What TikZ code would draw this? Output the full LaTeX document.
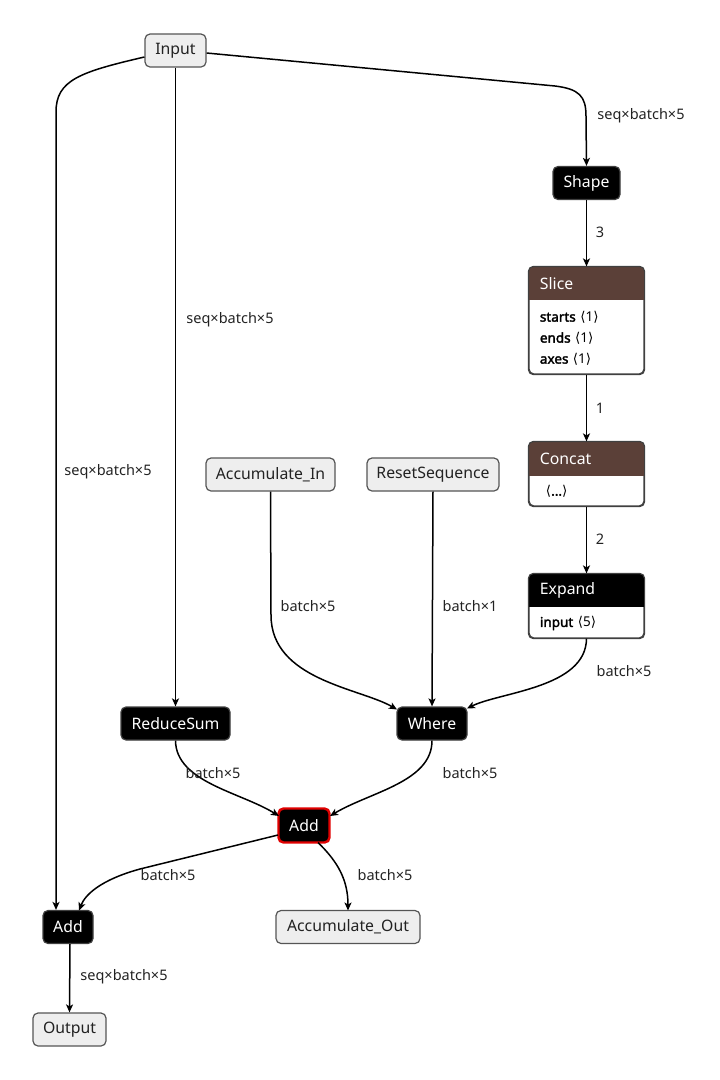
\documentclass[tikz,border=0pt]{standalone}
\usepackage{fontspec}
\setmainfont{Noto Sans}
\newfontfamily\djv{DejaVu Sans}
\newfontfamily\fbold[FakeBold=2.2]{Noto Sans}
\usetikzlibrary{arrows.meta}
\newcommand\lan{{\djv\char"27E8}}
\newcommand\ran{{\djv\char"27E9}}
\newcommand\kw[1]{{\fbold #1}}
\definecolor{hdr}{HTML}{5B4038}
\definecolor{gfill}{HTML}{EEEEEE}
\definecolor{gline}{HTML}{555555}
\definecolor{txt}{HTML}{222222}
\definecolor{redb}{HTML}{E00000}
\tikzset{
  base/.style={rounded corners=5pt, line width=1.2pt, inner sep=0pt, minimum height=33pt, font=\fontsize{15.8}{19}\selectfont},
  gnode/.style={base, draw=gline, fill=gfill, text=txt},
  bnode/.style={base, draw=black!75, fill=black, text=white},
  opbox/.style={rounded corners=5pt, line width=1.2pt, draw=black!75, fill=white, inner sep=0pt},
  arr/.style={line width=1.5pt, -{Stealth[length=8pt,width=7pt,inset=2pt]}},
  lbl/.style={font=\fontsize{14.5}{17}\selectfont, text=txt},
  hdrtxt/.style={font=\fontsize{15.8}{19}\selectfont, text=white, anchor=west},
  attr/.style={font=\fontsize{13.5}{16}\selectfont, text=black, anchor=west},
}
\begin{document}
\begin{tikzpicture}[x=1pt,y=-1pt]
\useasboundingbox (0,0) rectangle (720,1080);
% plain nodes
\node[gnode, minimum width=61pt] (in) at (175.5,50.5) {Input};
\node[bnode, minimum width=67pt] (shape) at (586.5,183) {Shape};
\node[gnode, minimum width=129pt] (accin) at (270.5,474.5) {Accumulate\_In};
\node[gnode, minimum width=132pt] (reset) at (433,474.5) {ResetSequence};
\node[bnode, minimum width=109pt] (rsum) at (175.5,723.5) {ReduceSum};
\node[bnode, minimum width=70pt] (where) at (432,723.5) {Where};
\node[bnode, minimum width=51pt, minimum height=34pt, draw=redb, line width=2.4pt] (add) at (304,825.5) {Add};
\node[bnode, minimum width=50pt] (add2) at (68,927) {Add};
\node[gnode, minimum width=144pt] (accout) at (348,927) {Accumulate\_Out};
\node[gnode, minimum width=73pt] (out) at (69.5,1029.5) {Output};
% Slice
\node[opbox, minimum width=115pt, minimum height=107pt] (slice) at (586.5,320.5) {};
\begin{scope}
\clip[rounded corners=5pt] (slice.south west) rectangle (slice.north east);
\fill[hdr] (slice.north west) rectangle ([yshift=-34pt]slice.north east);
\end{scope}
\draw[opbox, fill=none] (slice.south west) rectangle (slice.north east);
\node[hdrtxt] (slicet) at ([xshift=8pt,yshift=-17pt]slice.north west) {Slice};
\node[attr] (s1) at ([xshift=8pt,yshift=-51pt]slice.north west) {\kw{starts}\,\,\lan1\ran};
\node[attr] (s2) at ([xshift=8pt,yshift=-72pt]slice.north west) {\kw{ends}\,\,\lan1\ran};
\node[attr] (s3) at ([xshift=8pt,yshift=-93pt]slice.north west) {\kw{axes}\,\,\lan1\ran};
% Concat
\node[opbox, minimum width=115pt, minimum height=64pt] (concat) at (586.5,474) {};
\begin{scope}
\clip[rounded corners=5pt] (concat.south west) rectangle (concat.north east);
\fill[hdr] (concat.north west) rectangle ([yshift=-35pt]concat.north east);
\end{scope}
\draw[opbox, fill=none] (concat.south west) rectangle (concat.north east);
\node[hdrtxt] (concatt) at ([xshift=8pt,yshift=-17.5pt]concat.north west) {Concat};
\node[attr] (c1) at ([xshift=14pt,yshift=-50pt]concat.north west) {\kw{\lan...\ran}};
% Expand
\node[opbox, minimum width=115pt, minimum height=64pt] (expand) at (586.5,606) {};
\begin{scope}
\clip[rounded corners=5pt] (expand.south west) rectangle (expand.north east);
\fill[black] (expand.north west) rectangle ([yshift=-34pt]expand.north east);
\end{scope}
\draw[opbox, fill=none] (expand.south west) rectangle (expand.north east);
\node[hdrtxt] (expandt) at ([xshift=8pt,yshift=-17pt]expand.north west) {Expand};
\node[attr] (e1) at ([xshift=8pt,yshift=-50pt]expand.north west) {\kw{input}\,\,\lan5\ran};
% edges
\draw[arr] (in.west|-0,57) .. controls (80,72) and (56,80) .. (56,112) -- (add2.north-|56,0);
\node[lbl] at (108,472) {seq×batch×5};
\draw[arr] (in.south) -- (rsum.north);
\node[lbl] at (230,320) {seq×batch×5};
\draw[arr] (in.east|-0,53) -- (555,86) .. controls (579,89) and (586,96) .. (586,116) -- (shape.north);
\node[lbl] at (641,116) {seq×batch×5};
\draw[arr] (shape.south) -- (slice.north);
\node[lbl] at (600,232) {3};
\draw[arr] (slice.south) -- (concat.north);
\node[lbl] at (600,408) {1};
\draw[arr] (concat.south) -- (expand.north);
\node[lbl] at (600,539) {2};
\draw[arr] (expand.south) .. controls (586,688) and (500,692) .. (467,708.5);
\node[lbl] at (624,671) {batch×5};
\draw[arr] (accin.south) -- (271,615) .. controls (271,680) and (360,688) .. (397,709.5);
\node[lbl] at (308,606) {batch×5};
\draw[arr] (reset.south) -- (where.north);
\node[lbl] at (470,606) {batch×1};
\draw[arr] (rsum.south) .. controls (176,782) and (240,792) .. (279,816);
\node[lbl] at (213,773) {batch×5};
\draw[arr] (where.south) .. controls (432,782) and (370,792) .. (330,816);
\node[lbl] at (470,773) {batch×5};
\draw[arr] (278,835) -- (140,869) .. controls (100,880) and (85,895) .. (79,910.5);
\node[lbl] at (168,875) {batch×5};
\draw[arr] (318,842.5) .. controls (338,862) and (348,880) .. (348,910.5);
\node[lbl] at (385,875) {batch×5};
\draw[arr] (add2.south-|70,0) -- (out.north);
\node[lbl] at (124,977) {seq×batch×5};
\end{tikzpicture}
\end{document}
